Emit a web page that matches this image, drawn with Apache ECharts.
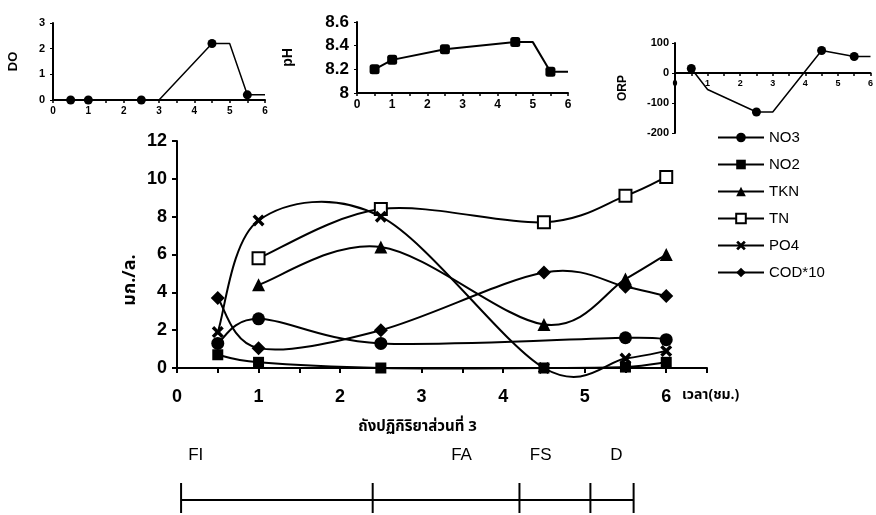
<!DOCTYPE html>
<html>
<head>
<meta charset="utf-8">
<script src="https://cdn.jsdelivr.net/npm/echarts@6/dist/echarts.min.js"></script>
<style>
html, body { margin: 0; padding: 0; background: #fff; }
#c { width: 876px; height: 515px; }
</style>
</head>
<body>
<div id="c"></div>
<script>
// Reactor part 3: nitrogen species, PO4 and COD over the cycle (hours)
const hours = [0.5, 1, 2.5, 4.5, 5.5, 6];
const no3   = [1.3, 2.6, 1.3, null, 1.6, 1.5];
const no2   = [0.7, 0.3, 0, 0, 0.05, 0.3];
const tkn   = [null, 4.4, 6.4, 2.3, 4.7, 6.0];
const tn    = [null, 5.8, 8.4, 7.7, 9.1, 10.1];
const po4   = [1.9, 7.8, 8.0, 0, 0.5, 0.9];
const cod10 = [3.7, 1.05, 2.0, 5.05, 4.3, 3.8];

// Small panels: dissolved oxygen, pH and ORP
const doHours  = [0.5, 1, 2.5, 3, 4.5, 5, 5.5, 6];
const doValues = [0, 0, 0, 0, 2.2, 2.2, 0.2, 0.2];
const doMarked = [true, true, true, false, true, false, true, false];

const phHours  = [0.5, 1, 2.5, 4.5, 5, 5.5, 6];
const phValues = [8.2, 8.28, 8.37, 8.43, 8.43, 8.18, 8.18];
const phMarked = [true, true, true, true, false, true, false];

const orpHours  = [0.5, 1, 2.5, 3, 4.5, 5.5, 6];
const orpValues = [15, -55, -130, -130, 75, 55, 55];
const orpMarked = [true, false, true, false, true, true, false];

// Operating phases along the time axis
const phaseNames  = ['FI', 'FA', 'FS', 'D'];
const phaseBounds = [0.05, 2.4, 4.2, 5.07, 5.6];

const FONT = "'Liberation Sans', Arial, sans-serif";
const THAI = "'Noto Sans Thai', 'Loma', 'Garuda', 'Norasi', 'Tlwg Typo', sans-serif";
const CROSS = 'path://M0,2 L2,0 L5,3 L8,0 L10,2 L7,5 L10,8 L8,10 L5,7 L2,10 L0,8 L3,5 Z';

const pairs = (xs, ys) => xs.map((x, i) => [x, ys[i]]).filter(p => p[1] !== null);
const marked = (xs, ys, flags, sym) => xs.map((x, i) => ({ value: [x, ys[i]], symbol: flags[i] ? sym : 'none' }));
const intLabel = v => (Math.abs(v - Math.round(v)) < 1e-6 ? String(Math.round(v)) : '');

// Markers for one measured series (its curve is drawn by curveSeries)
function markerSeries(name, ys, symbol, size, itemStyle) {
  return {
    name, type: 'line', xAxisIndex: 0, yAxisIndex: 0,
    data: pairs(hours, ys),
    symbol, symbolSize: size, showSymbol: true,
    itemStyle: itemStyle || { color: '#000' },
    lineStyle: { color: '#000', width: 2, opacity: 0 },
    emphasis: { disabled: true }, z: 4
  };
}

// Cardinal (Catmull-Rom) spline through the measured points, one bezier per interval
function curveSeries(ys) {
  const pts = pairs(hours, ys);
  return {
    type: 'custom', xAxisIndex: 0, yAxisIndex: 0, silent: true, z: 2,
    data: pts,
    renderItem(params, api) {
      const i = params.dataIndex;
      if (i >= pts.length - 1) return null;
      const p = pts.map(d => api.coord(d));
      const a = p[i - 1] || p[i], b = p[i], c = p[i + 1], d = p[i + 2] || p[i + 1];
      return {
        type: 'bezierCurve',
        shape: {
          x1: b[0], y1: b[1], x2: c[0], y2: c[1],
          cpx1: b[0] + (c[0] - a[0]) / 6, cpy1: b[1] + (c[1] - a[1]) / 6,
          cpx2: c[0] - (d[0] - b[0]) / 6, cpy2: c[1] - (d[1] - b[1]) / 6
        },
        style: { stroke: '#000', lineWidth: 2, fill: null }
      };
    }
  };
}

function smallXAxis(grid, fontSize, extra) {
  return Object.assign({
    type: 'value', gridIndex: grid, min: 0, max: 6, interval: 0.5,
    axisLine: { onZero: false, lineStyle: { color: '#000', width: 2 } },
    axisTick: { length: 3, lineStyle: { color: '#000', width: 1.5 } },
    axisLabel: { formatter: intLabel, color: '#000', fontSize, fontWeight: 'bold', fontFamily: FONT, margin: 6 },
    splitLine: { show: false }
  }, extra || {});
}

const option = {
  backgroundColor: '#fff',
  animation: false,
  textStyle: { fontFamily: FONT, color: '#000' },
  grid: [
    { left: 177, top: 141, width: 530, height: 227 },
    { left: 53, top: 23, width: 212, height: 77 },
    { left: 357, top: 22, width: 211, height: 71 },
    { left: 675, top: 43, width: 198, height: 90 }
  ],
  legend: {
    orient: 'vertical', left: 712, top: 125,
    itemWidth: 46, itemHeight: 12, itemGap: 12,
    lineStyle: { color: '#000', width: 2, opacity: 1 },
    textStyle: { fontSize: 15, color: '#000', fontFamily: "'Liberation Sans Narrow', " + FONT },
    data: ['NO3', 'NO2', 'TKN', 'TN', 'PO4', 'COD*10']
  },
  xAxis: [
    {
      type: 'value', gridIndex: 0, min: 0, max: 6.5, interval: 0.5,
      name: 'เวลา(ชม.)', nameLocation: 'end', nameGap: -25,
      nameTextStyle: { fontFamily: THAI, fontSize: 14, fontWeight: 'bold', color: '#000', verticalAlign: 'top', align: 'left', padding: [21, 0, 0, 0] },
      axisLine: { lineStyle: { color: '#000', width: 2 } },
      axisTick: { length: 5, lineStyle: { color: '#000', width: 2 } },
      axisLabel: { formatter: v => (v <= 6 ? intLabel(v) : ''), color: '#000', fontSize: 18, fontWeight: 'bold', margin: 20 },
      splitLine: { show: false }
    },
    smallXAxis(1, 10),
    smallXAxis(2, 12),
    // ORP time axis sits on the zero line of its panel
    smallXAxis(3, 9, { offset: -60 })
  ],
  yAxis: [
    {
      type: 'value', gridIndex: 0, min: 0, max: 12, interval: 2,
      axisLine: { show: true, lineStyle: { color: '#000', width: 2 } },
      axisTick: { show: true, length: 5, lineStyle: { color: '#000', width: 2 } },
      axisLabel: { color: '#000', fontSize: 18, fontWeight: 'bold', margin: 10 },
      splitLine: { show: false }
    },
    {
      type: 'value', gridIndex: 1, min: 0, max: 3, interval: 1,
      name: 'DO', nameLocation: 'middle', nameGap: 33,
      nameTextStyle: { fontSize: 13, fontWeight: 'bold', color: '#000' },
      axisLine: { show: true, lineStyle: { color: '#000', width: 2 } },
      axisTick: { show: true, length: 3, lineStyle: { color: '#000' } },
      axisLabel: { color: '#000', fontSize: 11, fontWeight: 'bold', margin: 8 },
      splitLine: { show: false }
    },
    {
      type: 'value', gridIndex: 2, min: 8, max: 8.6, interval: 0.2,
      name: 'pH', nameLocation: 'middle', nameGap: 62,
      nameTextStyle: { fontSize: 14, fontWeight: 'bold', color: '#000' },
      axisLine: { show: true, lineStyle: { color: '#000', width: 2 } },
      axisTick: { show: true, length: 3, lineStyle: { color: '#000' } },
      axisLabel: { color: '#000', fontSize: 17, fontWeight: 'bold', margin: 8, formatter: v => (v === 8 ? '8' : v.toFixed(1)) },
      splitLine: { show: false }
    },
    {
      type: 'value', gridIndex: 3, min: -200, max: 100, interval: 100,
      name: 'ORP', nameLocation: 'middle', nameGap: 46,
      nameTextStyle: { fontSize: 12, fontWeight: 'bold', color: '#000' },
      axisLine: { show: true, lineStyle: { color: '#000', width: 2 } },
      axisTick: { show: true, length: 3, lineStyle: { color: '#000' } },
      axisLabel: { color: '#000', fontSize: 11, fontWeight: 'bold', margin: 6 },
      splitLine: { show: false }
    }
  ],
  series: [
    curveSeries(no3), curveSeries(no2), curveSeries(tkn),
    curveSeries(tn), curveSeries(po4), curveSeries(cod10),
    markerSeries('NO3', no3, 'circle', 13),
    markerSeries('NO2', no2, 'rect', 11),
    markerSeries('TKN', tkn, 'triangle', 13),
    markerSeries('TN', tn, 'rect', 12, { color: '#fff', borderColor: '#000', borderWidth: 2 }),
    markerSeries('PO4', po4, CROSS, 12),
    markerSeries('COD*10', cod10, 'diamond', 14),
    {
      type: 'line', xAxisIndex: 1, yAxisIndex: 1,
      data: marked(doHours, doValues, doMarked, 'circle'), symbolSize: 9,
      itemStyle: { color: '#000' }, lineStyle: { color: '#000', width: 1.5 },
      emphasis: { disabled: true }
    },
    {
      type: 'line', xAxisIndex: 2, yAxisIndex: 2,
      data: marked(phHours, phValues, phMarked, 'roundRect'), symbolSize: 10,
      itemStyle: { color: '#000' }, lineStyle: { color: '#000', width: 2 },
      emphasis: { disabled: true }
    },
    {
      type: 'line', xAxisIndex: 3, yAxisIndex: 3,
      data: marked(orpHours, orpValues, orpMarked, 'circle'), symbolSize: 9,
      itemStyle: { color: '#000' }, lineStyle: { color: '#000', width: 1.5 },
      emphasis: { disabled: true }
    }
  ]
};

const chart = echarts.init(document.getElementById('c'), null, { renderer: 'canvas' });
chart.setOption(option);

// Phase timeline and captions placed against the main time axis
const px = v => chart.convertToPixel({ xAxisIndex: 0 }, v);
const barY = 500;
const graphic = [];
graphic.push({
  type: 'line', shape: { x1: px(phaseBounds[0]), y1: barY, x2: px(phaseBounds[phaseBounds.length - 1]), y2: barY },
  style: { stroke: '#000', lineWidth: 2 }
});
phaseBounds.forEach(b => graphic.push({
  type: 'line', shape: { x1: px(b), y1: 483, x2: px(b), y2: 513 },
  style: { stroke: '#000', lineWidth: 2 }
}));
const phaseLabelX = [0.23, 3.49, 4.46, 5.39];
phaseNames.forEach((n, i) => graphic.push({
  type: 'text', x: px(phaseLabelX[i]), y: 455,
  style: { text: n, fontSize: 17, fontFamily: FONT, fill: '#000', align: 'center', verticalAlign: 'middle' }
}));
graphic.push({
  type: 'text', x: px(2.95), y: 428,
  style: { text: 'ถังปฏิกิริยาส่วนที่ 3', fontSize: 15, fontWeight: 'bold', fontFamily: THAI, fill: '#000', align: 'center', verticalAlign: 'middle' }
});
graphic.push({
  type: 'text', x: 131, y: 280, rotation: Math.PI / 2,
  style: { text: 'มก./ล.', fontSize: 18, fontWeight: 'bold', fontFamily: THAI, fill: '#000', align: 'center', verticalAlign: 'middle' }
});
chart.setOption({ graphic });
</script>
</body>
</html>
